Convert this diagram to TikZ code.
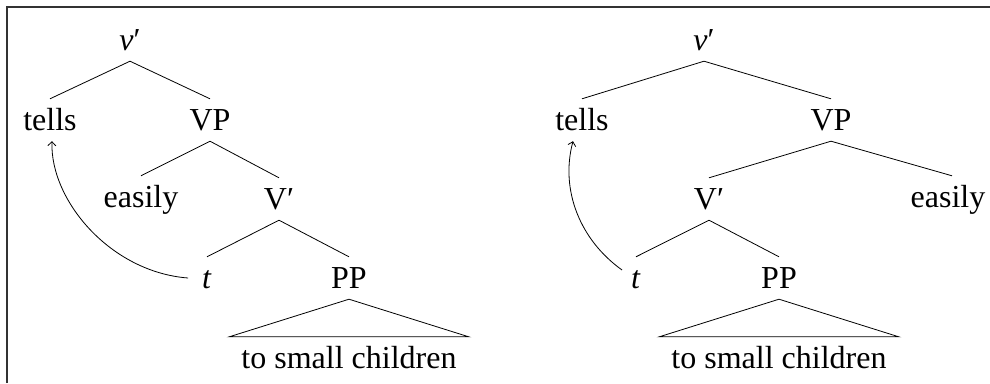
\documentclass[tikz,border=0pt]{standalone}
\usepackage{fontspec}
\usetikzlibrary{arrows.meta}
\setmainfont{Liberation Serif}
\begin{document}
\begin{tikzpicture}[x=1pt,y=-1pt,
  lab/.style={anchor=base,font=\fontsize{32}{38}\selectfont,text height=26pt,text depth=6pt,inner ysep=5pt,inner xsep=3pt},
  edge/.style={line width=0.8pt},
  move/.style={line width=0.8pt,-{Straight Barb[length=4pt,width=8pt]}}]
\useasboundingbox (0,0) rectangle (990,383);
\draw[line width=1.6pt,black!80] (7,383) -- (7,7) -- (990,7);
% left tree
\node[lab] (vL) at (130,50) {\textit{v}′};
\node[lab] (tellsL) at (50,130) {tells};
\node[lab] (VPL) at (210,130) {VP};
\node[lab] (easL) at (141,207) {easily};
\node[lab] (VbL) at (279,209) {V′};
\node[lab] (tL) at (207,288) {\textit{t}};
\node[lab] (PPL) at (349,288) {PP};
\node[lab,inner xsep=12pt] (tscL) at (349,368) {to small children};
\draw[edge] (tellsL.north) -- (vL.south) -- (VPL.north);
\draw[edge] (easL.north) -- (VPL.south) -- (VbL.north);
\draw[edge] (tL.north) -- (VbL.south) -- (PPL.north);
\draw[edge] (PPL.south) -- (tscL.north west) -- (tscL.north east) -- cycle;
\draw[move] ([xshift=-11pt]tL.west) .. controls (110,272) and (50,200) .. ([xshift=2pt]tellsL.south);
% right tree
\node[lab] (vR) at (704,50) {\textit{v}′};
\node[lab] (tellsR) at (582,130) {tells};
\node[lab] (VPR) at (831,130) {VP};
\node[lab] (VbR) at (709,209) {V′};
\node[lab] (easR) at (948,207) {easily};
\node[lab] (tR) at (636,288) {\textit{t}};
\node[lab] (PPR) at (779,288) {PP};
\node[lab,inner xsep=12pt] (tscR) at (779,368) {to small children};
\draw[edge] (tellsR.north) -- (vR.south) -- (VPR.north);
\draw[edge] (VbR.north) -- (VPR.south) -- ([xshift=4pt]easR.north);
\draw[edge] (tR.north) -- (VbR.south) -- (PPR.north);
\draw[edge] (PPR.south) -- (tscR.north west) -- (tscR.north east) -- cycle;
\draw[move] ([xshift=-6pt,yshift=8pt]tR.west) .. controls (580,240) and (560,190) .. ([xshift=-9pt]tellsR.south);
\end{tikzpicture}
\end{document}
